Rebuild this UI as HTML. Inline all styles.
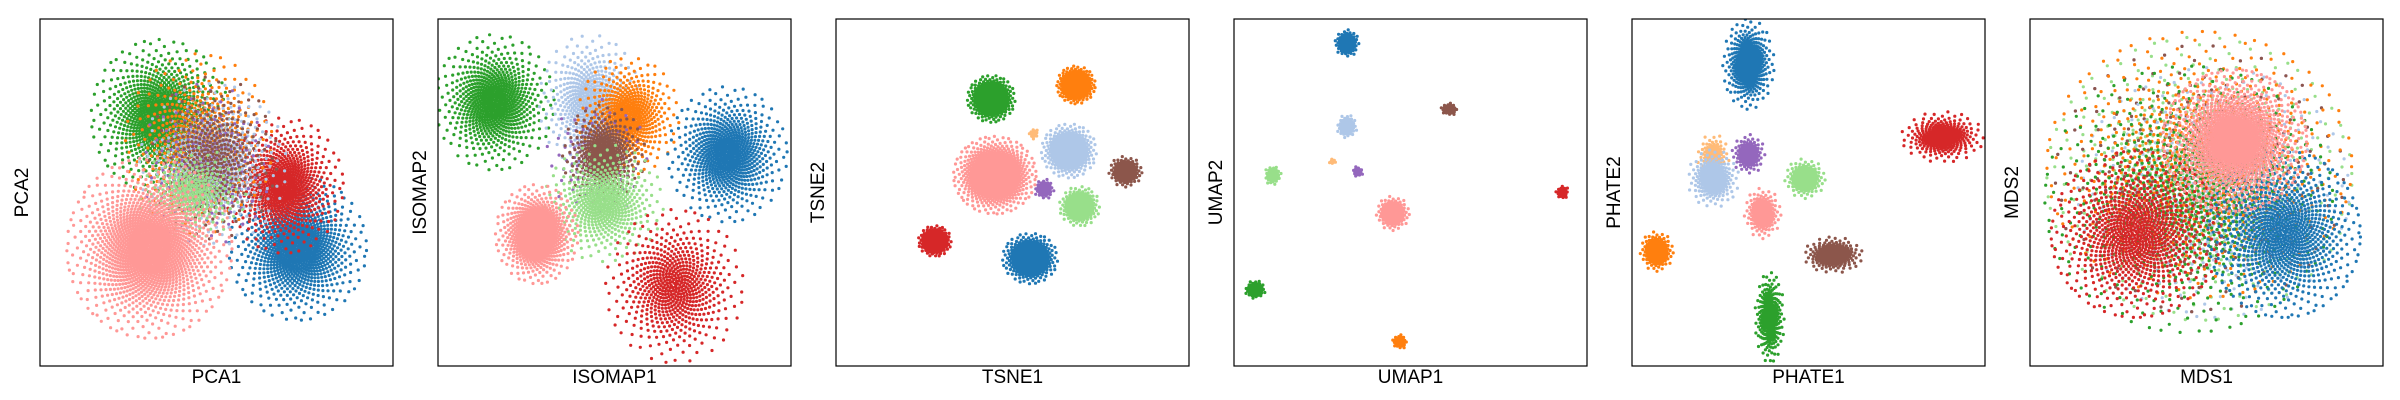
<!DOCTYPE html>
<html><head><meta charset="utf-8"><style>
html,body{margin:0;padding:0;background:#fff;width:2400px;height:400px;overflow:hidden}
svg{display:block}
text{font-family:"Liberation Sans",sans-serif;font-size:19px;fill:#000}
</style></head><body>
<svg id="fig" width="2400" height="400" xmlns="http://www.w3.org/2000/svg"></svg>
<script>
const panelTitles=["PCA","ISOMAP","TSNE","UMAP","PHATE","MDS"];
const colorMap={blue:"#1f77b4",lightblue:"#aec7e8",orange:"#ff7f0e",lightorange:"#ffbb78",green:"#2ca02c",lightgreen:"#98df8a",red:"#d62728",pink:"#ff9896",purple:"#9467bd",brown:"#8c564b"};
// per panel: cluster colour, centre x, centre y (normalised 0-1), spread x, spread y, count
const pcaColors=["blue","red","green","orange","lightblue","purple","brown","lightgreen","pink"];
const pcaX=[0.73,0.69,0.34,0.45,0.49,0.47,0.49,0.43,0.31];
const pcaY=[0.66,0.48,0.28,0.36,0.42,0.42,0.40,0.50,0.66];
const pcaSX=[0.075,0.065,0.075,0.08,0.08,0.07,0.07,0.06,0.09];
const pcaSY=[0.08,0.075,0.085,0.1,0.09,0.09,0.09,0.05,0.1];
const pcaN=[900,700,900,600,600,250,400,300,1400];
const isoColors=["green","lightblue","orange","purple","brown","blue","lightgreen","pink","red"];
const isoX=[0.16,0.43,0.54,0.45,0.47,0.82,0.47,0.28,0.67];
const isoY=[0.24,0.24,0.28,0.40,0.39,0.39,0.53,0.62,0.77];
const isoSX=[0.065,0.055,0.055,0.055,0.045,0.065,0.065,0.045,0.075];
const isoSY=[0.075,0.075,0.065,0.065,0.055,0.075,0.065,0.055,0.085];
const isoN=[700,500,500,150,400,700,500,700,600];
const tsneColors=["green","orange","pink","lightblue","brown","lightgreen","red","blue","purple","lightorange"];
const tsneX=[0.44,0.68,0.45,0.66,0.82,0.69,0.28,0.55,0.59,0.56];
const tsneY=[0.23,0.19,0.45,0.38,0.44,0.54,0.64,0.69,0.49,0.33];
const tsneSX=[0.026,0.021,0.045,0.03,0.018,0.022,0.018,0.03,0.011,0.006];
const tsneSY=[0.026,0.021,0.043,0.03,0.017,0.022,0.017,0.028,0.011,0.006];
const tsneN=[500,400,900,500,200,300,300,500,80,20];
const umapColors=["blue","lightblue","brown","purple","lightorange","lightgreen","pink","red","green","orange"];
const umapX=[0.32,0.32,0.61,0.35,0.28,0.11,0.45,0.93,0.06,0.47];
const umapY=[0.07,0.31,0.26,0.44,0.41,0.45,0.56,0.50,0.78,0.93];
const umapSX=[0.013,0.011,0.009,0.006,0.004,0.009,0.018,0.007,0.011,0.008];
const umapSY=[0.015,0.013,0.007,0.006,0.004,0.011,0.019,0.008,0.01,0.008];
const umapN=[150,100,60,30,10,70,200,40,100,60];
const phateColors=["blue","red","lightorange","lightblue","purple","lightgreen","pink","brown","orange","green"];
const phateX=[0.33,0.88,0.23,0.23,0.33,0.49,0.37,0.57,0.07,0.39];
const phateY=[0.13,0.34,0.39,0.46,0.39,0.46,0.56,0.68,0.67,0.86];
const phateSX=[0.028,0.045,0.018,0.028,0.018,0.022,0.02,0.032,0.018,0.016];
const phateSY=[0.05,0.028,0.022,0.032,0.022,0.022,0.028,0.02,0.022,0.05];
const phateN=[400,300,100,250,150,200,200,250,200,300];
const mdsColors=["lightgreen","purple","brown","lightblue","orange","green","red","blue","pink"];
const mdsX=[0.48,0.48,0.48,0.52,0.48,0.45,0.30,0.72,0.58];
const mdsY=[0.46,0.46,0.46,0.50,0.42,0.52,0.62,0.62,0.35];
const mdsSX=[0.18,0.17,0.17,0.16,0.18,0.17,0.1,0.09,0.085];
const mdsSY=[0.17,0.16,0.16,0.15,0.16,0.16,0.1,0.1,0.085];
const mdsN=[700,400,400,600,800,800,900,900,1200];

const panels=[
 [pcaColors,pcaX,pcaY,pcaSX,pcaSY,pcaN],
 [isoColors,isoX,isoY,isoSX,isoSY,isoN],
 [tsneColors,tsneX,tsneY,tsneSX,tsneSY,tsneN],
 [umapColors,umapX,umapY,umapSX,umapSY,umapN],
 [phateColors,phateX,phateY,phateSX,phateSY,phateN],
 [mdsColors,mdsX,mdsY,mdsSX,mdsSY,mdsN]
];
const NS="http://www.w3.org/2000/svg";
const fig=document.getElementById("fig");
const PW=353,PH=347,TOP=19,STEP=398,LEFT=40;
function mk(t,a){const e=document.createElementNS(NS,t);for(const k in a)e.setAttribute(k,a[k]);return e;}
panels.forEach((p,pi)=>{
  const x0=LEFT+pi*STEP;
  const sx=v=>x0+v*PW, sy=v=>TOP+v*PH;
  const g=mk("g",{});
  
  
  fig.appendChild(g);
  const cp=mk("clipPath",{id:"c"+pi});cp.appendChild(mk("rect",{x:x0,y:TOP,width:PW,height:PH}));g.appendChild(cp);
  const pts=mk("g",{"clip-path":"url(#c"+pi+")"});
  
  
  g.appendChild(pts);
  const [cols,cx,cy,ssx,ssy,cn]=p;
  const clip=pi===5?2.4:2.6;
  cols.forEach((c,ci)=>{
    const n=cn[ci];let d="";
    for(let i=0;i<n;i++){
      const q=(i+0.5)/n;
      const r=Math.min(Math.sqrt(-2*Math.log(1-q)),clip);
      const a=i*2.399963;
      const px=sx(cx[ci]+ssx[ci]*r*Math.cos(a)), py=sy(cy[ci]+ssy[ci]*r*Math.sin(a));
      d+="M"+(px-1.6).toFixed(1)+" "+py.toFixed(1)+"a1.6 1.6 0 1 0 3.2 0a1.6 1.6 0 1 0 -3.2 0";
    }
    const path=mk("path",{d:d,fill:colorMap[c]});
    
    
    pts.appendChild(path);
  });
  const frame=mk("rect",{x:x0,y:TOP,width:PW,height:PH,fill:"none",stroke:"#000","stroke-width":1.2});
  
  
  g.appendChild(frame);
  const xl=mk("text",{x:x0+PW/2,y:383,"text-anchor":"middle"});xl.textContent=panelTitles[pi]+"1";
  
  
  g.appendChild(xl);
  const yx=x0-12,yy=TOP+PH/2;
  const yl=mk("text",{x:yx,y:yy,"text-anchor":"middle",transform:"rotate(-90 "+yx+" "+yy+")"});yl.textContent=panelTitles[pi]+"2";
  
  
  g.appendChild(yl);
});
</script>
</body></html>
